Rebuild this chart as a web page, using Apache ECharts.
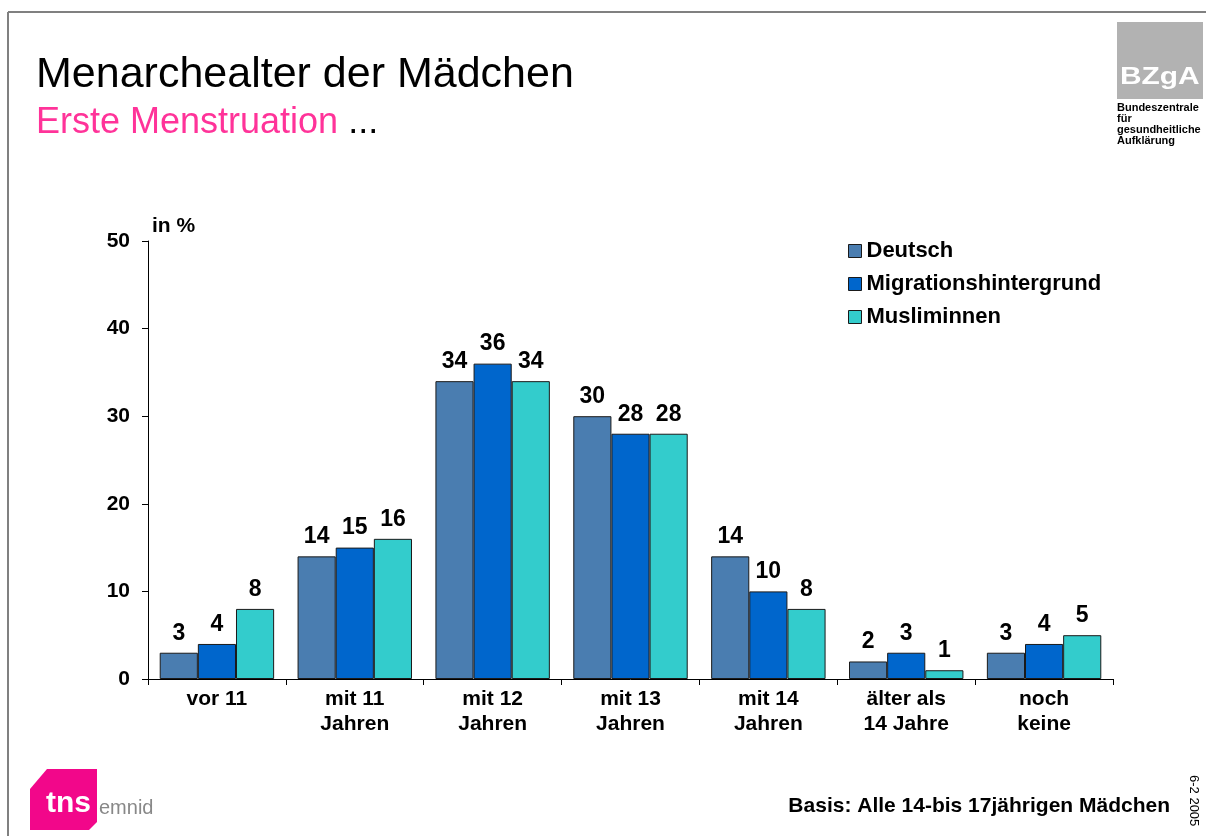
<!DOCTYPE html>
<html>
<head>
<meta charset="utf-8">
<title>Menarchealter</title>
<script src="https://cdn.jsdelivr.net/npm/echarts@6/dist/echarts.min.js"></script>
<style>
  html, body { margin: 0; padding: 0; background: #fff; }
  #main { width: 1206px; height: 836px; }
</style>
</head>
<body>
<div id="main"></div>
<script>
// categories and values
var categories = ['vor 11', 'mit 11\nJahren', 'mit 12\nJahren', 'mit 13\nJahren', 'mit 14\nJahren', 'älter als\n14 Jahre', 'noch\nkeine'];
var deutsch = [3, 14, 34, 30, 14, 2, 3];
var migration = [4, 15, 36, 28, 10, 3, 4];
var musliminnen = [8, 16, 34, 28, 8, 1, 5];
var seriesNames = ['Deutsch', 'Migrationshintergrund', 'Musliminnen'];
var seriesColors = ['#4A7DB0', '#0066CC', '#33CCCC'];

var font = 'Arial, "Liberation Sans", Helvetica, sans-serif';
var chart = echarts.init(document.getElementById('main'));

function makeSeries(name, data, color) {
    return {
        name: name,
        type: 'bar',
        data: data,
        barGap: '0%',
        barCategoryGap: '17%',
        itemStyle: { color: color, borderColor: '#1a1a1a', borderWidth: 1 },
        label: {
            show: true,
            position: 'top',
            distance: 8,
            color: '#000',
            fontFamily: font,
            fontWeight: 'bold',
            fontSize: 23
        }
    };
}

var option = {
    backgroundColor: '#fff',
    animation: false,
    title: [{
        text: 'Menarchealter der Mädchen',
        left: 31,
        top: 49,
        textStyle: { fontFamily: font, fontWeight: 'normal', fontSize: 43, color: '#000' }
    }, {
        text: '{p|Erste Menstruation }{k|...}',
        left: 31,
        top: 100,
        textStyle: {
            fontWeight: 'normal',
            rich: {
                p: { fontFamily: font, fontWeight: 'normal', fontSize: 36, color: '#FF3399' },
                k: { fontFamily: font, fontWeight: 'normal', fontSize: 36, color: '#000' }
            }
        }
    }],
    legend: {
        orient: 'vertical',
        left: 843,
        top: 235,
        itemWidth: 13,
        itemHeight: 13,
        itemGap: 11,
        icon: 'rect',
        itemStyle: { borderColor: '#1a1a1a', borderWidth: 1 },
        textStyle: { fontFamily: font, fontWeight: 'bold', fontSize: 22, color: '#000' },
        data: seriesNames
    },
    grid: { left: 148, right: 93, top: 241, bottom: 157, containLabel: false },
    xAxis: {
        type: 'category',
        data: categories,
        axisLine: { lineStyle: { color: '#000', width: 1 } },
        axisTick: { show: true, length: 6, lineStyle: { color: '#000' } },
        axisLabel: {
            color: '#000',
            fontFamily: font,
            fontWeight: 'bold',
            fontSize: 21,
            lineHeight: 25,
            margin: 8
        }
    },
    yAxis: {
        type: 'value',
        min: 0,
        max: 50,
        interval: 10,
        name: 'in %',
        nameLocation: 'end',
        nameGap: 4,
        nameTextStyle: { fontFamily: font, fontWeight: 'bold', fontSize: 21, color: '#000', align: 'left', padding: [0, 0, 0, 4] },
        axisLine: { show: true, lineStyle: { color: '#000', width: 1 } },
        axisTick: { show: true, length: 6, lineStyle: { color: '#000' } },
        splitLine: { show: false },
        axisLabel: {
            color: '#000',
            fontFamily: font,
            fontWeight: 'bold',
            fontSize: 21,
            margin: 18
        }
    },
    series: [
        makeSeries(seriesNames[0], deutsch, seriesColors[0]),
        makeSeries(seriesNames[1], migration, seriesColors[1]),
        makeSeries(seriesNames[2], musliminnen, seriesColors[2])
    ],
    graphic: [
        // page frame
        { type: 'line', shape: { x1: 8, y1: 12, x2: 1206, y2: 12 }, style: { stroke: '#808080', lineWidth: 2 } },
        { type: 'line', shape: { x1: 8, y1: 12, x2: 8, y2: 836 }, style: { stroke: '#808080', lineWidth: 2 } },
        // BZgA logo
        { type: 'rect', shape: { x: 1117, y: 22, width: 86, height: 77 }, style: { fill: '#B2B2B2' } },
        { type: 'text', x: 1120, y: 66, scaleX: 1.3, style: { text: 'BZgA', fill: '#fff', font: 'bold 23px ' + font } },
        { type: 'text', left: 1117, top: 102, style: { text: 'Bundeszentrale\nfür\ngesundheitliche\nAufklärung', fill: '#000', font: 'bold 11px ' + font, lineHeight: 11 } },
        // tns emnid logo
        { type: 'polygon', shape: { points: [[47, 769], [97, 769], [97, 822], [89, 830], [30, 830], [30, 789]] }, style: { fill: '#F2078A' } },
        { type: 'text', left: 46, top: 789, style: { text: 'tns', fill: '#fff', font: 'bold 30px ' + font } },
        { type: 'text', left: 99, top: 798, style: { text: 'emnid', fill: '#888', font: '20px ' + font } },
        // footer
        { type: 'text', right: 36, top: 796, style: { text: 'Basis: Alle 14-bis 17jährigen Mädchen', fill: '#000', font: 'bold 21px ' + font } },
        { type: 'text', x: 1200, y: 775, rotation: -Math.PI / 2, style: { text: '6-2 2005', fill: '#000', font: '13px ' + font } }
    ]
};

chart.setOption(option);
</script>
</body>
</html>
